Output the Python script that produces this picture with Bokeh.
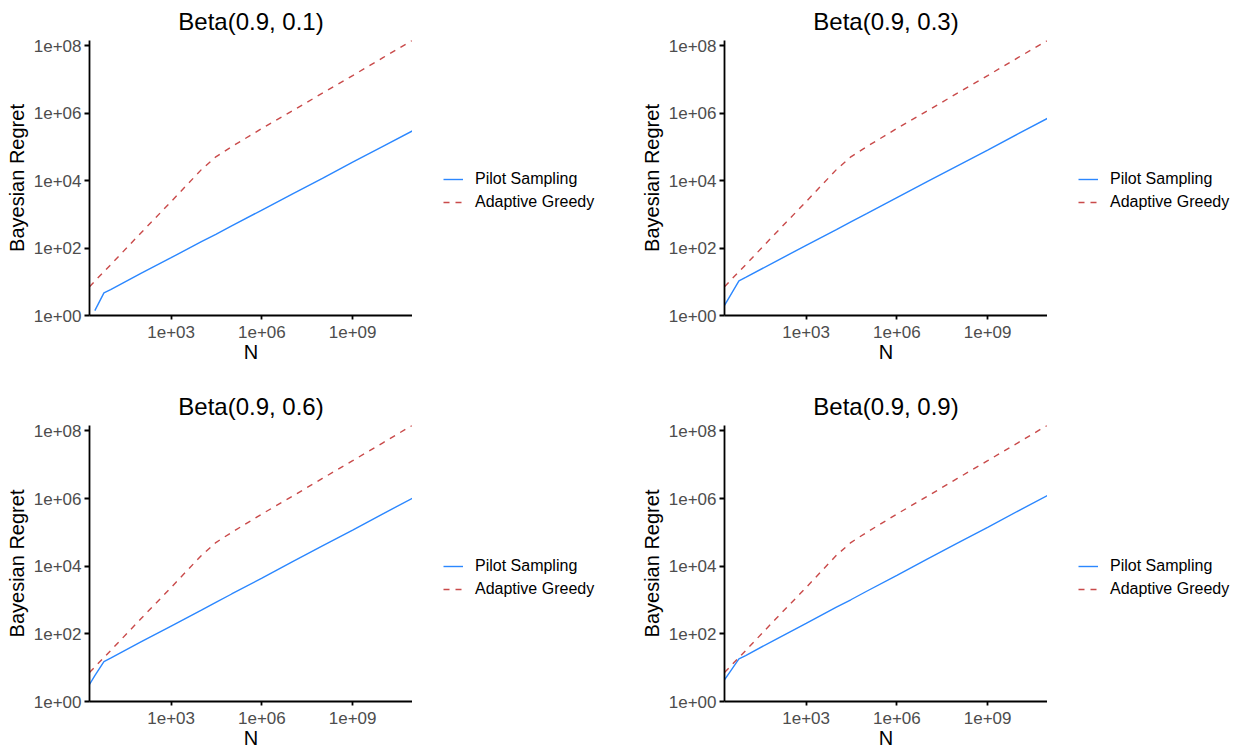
import numpy as np
from bokeh.plotting import figure
from bokeh.layouts import gridplot
from bokeh.models import Range1d, FixedTicker, Legend, LegendItem
from bokeh.embed import file_html
from bokeh.resources import INLINE

# ---- data ----
N = [2, 3, 6, 10, 100, 1e3, 1e4, 3e4, 1e5, 1e6, 1e7, 1e8, 1e9, 1e10, 9.5e10]

titles = ["Beta(0.9, 0.1)", "Beta(0.9, 0.3)", "Beta(0.9, 0.6)", "Beta(0.9, 0.9)"]

# first value of pilot_01 is below the y-axis floor (not drawn, as in the reference)
pilot_01 = [np.nan, 1.4, 4.7, 5.9, 17.8, 52, 155, 257, 457, 1350, 3980, 11700, 35500, 105000, 302000]
pilot_03 = [2.0, 3.7, 10.7, 13.5, 40.7, 120, 355, 603, 1050, 3160, 9330, 27500, 81300, 245000, 708000]
pilot_06 = [3.2, 5.8, 15.1, 19.1, 57.5, 170, 501, 851, 1510, 4470, 13500, 39800, 117000, 355000, 1020000]
pilot_09 = [4.4, 7.4, 18.2, 22.9, 69.2, 204, 617, 1020, 1820, 5370, 16200, 47900, 141000, 427000, 1230000]

greedy_01 = [7.1, 10.5, 20, 32, 282, 2400, 21400, 51300, 102000, 355000, 1170000, 3980000, 13200000, 44700000, 148000000]
greedy_03 = [7.1, 10.5, 20, 32, 282, 2400, 21400, 51300, 102000, 355000, 1170000, 3980000, 13200000, 44700000, 146000000]
greedy_06 = [7.2, 10.5, 20, 32, 280, 2350, 20900, 50100, 100000, 350000, 1160000, 3950000, 13200000, 44700000, 148000000]
greedy_09 = [7.2, 10.5, 20, 32, 280, 2350, 21000, 50100, 100000, 350000, 1160000, 3950000, 13200000, 44700000, 148000000]

x_ticks = [1e3, 1e6, 1e9]
x_tick_labels = ["1e+03", "1e+06", "1e+09"]
y_ticks = [1, 1e2, 1e4, 1e6, 1e8]
y_tick_labels = ["1e+00", "1e+02", "1e+04", "1e+06", "1e+08"]

series_names = ["Pilot Sampling", "Adaptive Greedy"]

pilots = [pilot_01, pilot_03, pilot_06, pilot_09]
greedys = [greedy_01, greedy_03, greedy_06, greedy_09]

FONT = "Liberation Sans"
BLUE = "#2B87FF"
RED = "#C94A4A"
DASH = "6 6"


def make_panel(i, height, top_border, bottom_border):
    p = figure(width=412, height=height, x_axis_type="log", y_axis_type="log",
               x_range=Range1d(2.0, 9.5e10), y_range=Range1d(1, 1.45e8),
               output_backend="svg", toolbar_location=None,
               min_border_left=89, min_border_right=0,
               min_border_top=top_border, min_border_bottom=bottom_border,
               title=titles[i])
    p.title.text_font = FONT
    p.title.text_font_size = "24px"
    p.title.text_font_style = "normal"
    p.title.align = "center"
    p.title.text_color = "black"
    p.title.text_line_height = 1.0
    p.title.standoff = 11

    p.outline_line_color = None
    p.xgrid.grid_line_color = None
    p.ygrid.grid_line_color = None

    for ax in (p.xaxis[0], p.yaxis[0]):
        ax.axis_line_width = 1.8
        ax.axis_line_color = "black"
        ax.major_tick_line_color = "black"
        ax.major_tick_line_width = 1.8
        ax.major_tick_in = 0
        ax.major_tick_out = 5
        ax.minor_tick_line_color = None
        ax.major_label_text_font = FONT
        ax.major_label_text_font_size = "17px"
        ax.major_label_text_color = "#4D4D4D"
        ax.axis_label_text_font = FONT
        ax.axis_label_text_font_size = "20px"
        ax.axis_label_text_font_style = "normal"
        ax.axis_label_text_color = "black"
        ax.major_label_standoff = 3
        ax.axis_label_standoff = 3
    p.xaxis.major_tick_out = 4
    p.xaxis.major_label_standoff = 6
    p.xaxis.axis_label_standoff = 0
    p.xaxis.major_label_text_line_height = 1.0
    p.xaxis.axis_label_text_line_height = 1.0

    p.xaxis.ticker = FixedTicker(ticks=x_ticks)
    p.yaxis.ticker = FixedTicker(ticks=y_ticks)
    p.xaxis.major_label_overrides = {t: l for t, l in zip(x_ticks, x_tick_labels)}
    p.yaxis.major_label_overrides = {t: l for t, l in zip(y_ticks, y_tick_labels)}
    p.xaxis.axis_label = "N"
    p.yaxis.axis_label = "Bayesian Regret"

    p.line(np.array(N), np.array(pilots[i], dtype=float), line_color=BLUE, line_width=1.4)
    p.line(np.array(N), np.array(greedys[i], dtype=float), line_color=RED, line_width=1.4,
           line_dash=DASH)
    return p


def make_legend(width, height, legend_bottom):
    # legend-only cell; its frame is aligned with the neighbouring panel's frame
    q = figure(width=width, height=height, x_range=Range1d(0, 1), y_range=Range1d(0, 1),
               output_backend="svg", toolbar_location=None,
               x_axis_location=None, y_axis_location=None,
               min_border=0, min_border_left=0, min_border_right=0,
               min_border_top=0, min_border_bottom=0)
    q.outline_line_color = None
    q.xgrid.grid_line_color = None
    q.ygrid.grid_line_color = None
    # proxies lying outside the visible range, only used for the legend keys
    r1 = q.line([5, 6], [5, 6], line_color=BLUE, line_width=1.4)
    r2 = q.line([5, 6], [5, 6], line_color=RED, line_width=1.4, line_dash=DASH)
    legend = Legend(items=[LegendItem(label=series_names[0], renderers=[r1]),
                           LegendItem(label=series_names[1], renderers=[r2])],
                    location=(31, legend_bottom))
    legend.border_line_color = None
    legend.background_fill_alpha = 0
    legend.label_text_font = FONT
    legend.label_text_font_size = "16px"
    legend.label_text_color = "black"
    legend.glyph_width = 20
    legend.glyph_height = 20
    legend.label_height = 20
    legend.label_standoff = 12
    legend.spacing = 3
    legend.padding = 0
    legend.margin = 0
    q.add_layout(legend, "center")
    return q


p1 = make_panel(0, 385, 39, 70)
p2 = make_panel(1, 385, 39, 70)
p3 = make_panel(2, 366, 39, 50)
p4 = make_panel(3, 366, 39, 50)

l1 = make_legend(223, 385, 103)
l2 = make_legend(194, 385, 103)
l3 = make_legend(223, 366, 102)
l4 = make_legend(194, 366, 102)

grid = gridplot([[p1, l1, p2, l2], [p3, l3, p4, l4]], toolbar_location=None)

open("out.html", "w").write(file_html(grid, INLINE))
